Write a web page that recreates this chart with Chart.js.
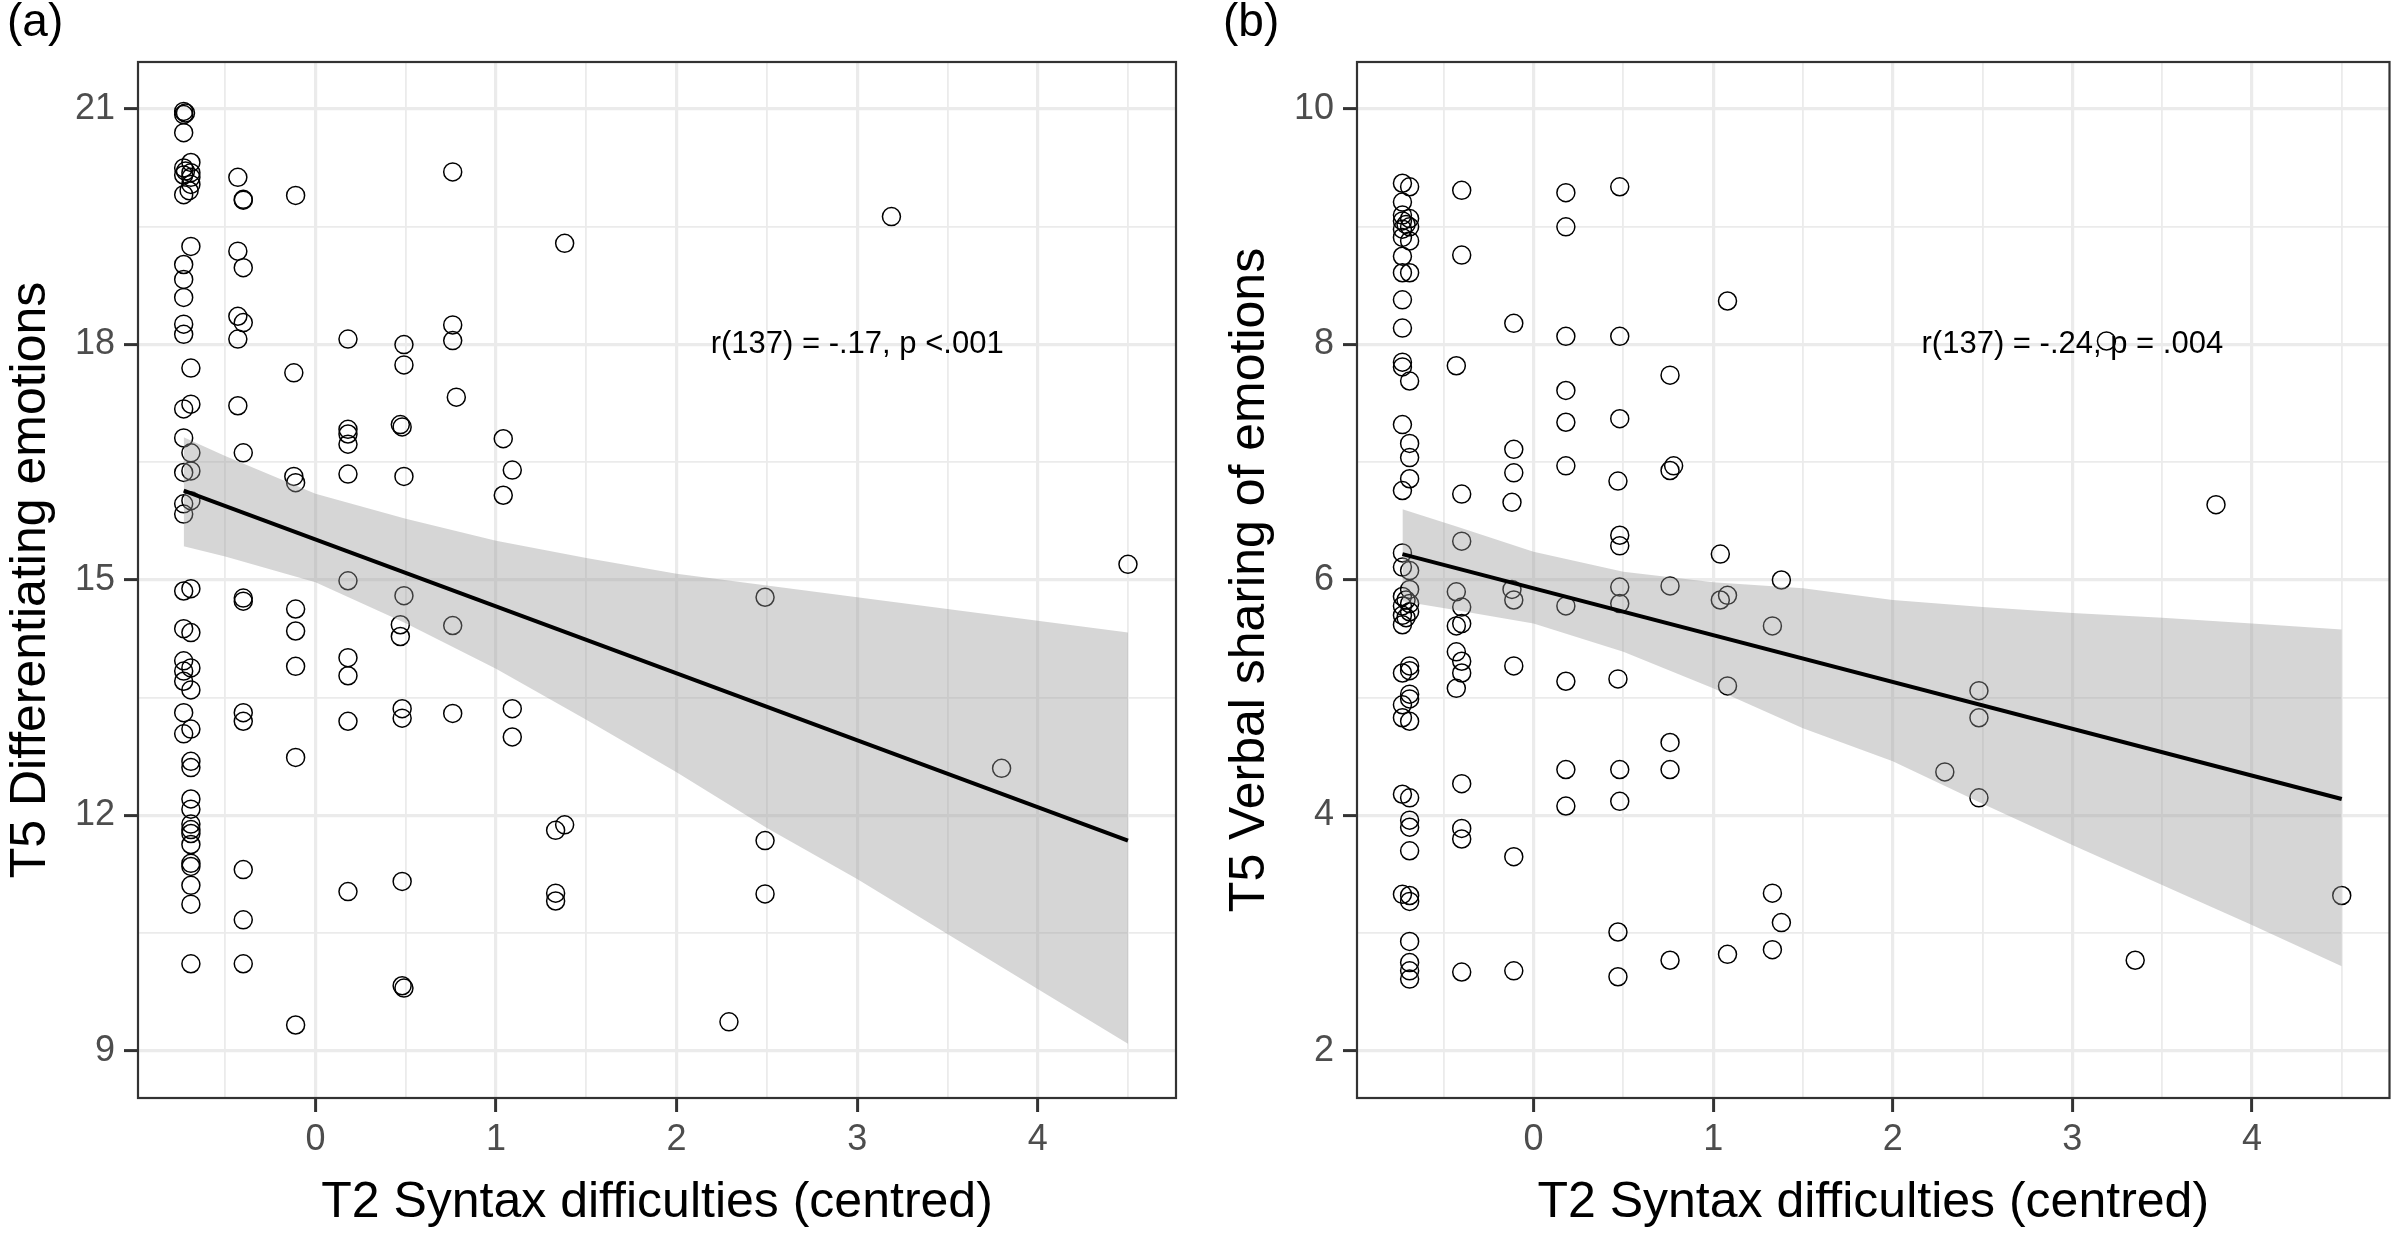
<!DOCTYPE html>
<html>
<head>
<meta charset="utf-8">
<title>T2 syntax difficulties and T5 emotion scores</title>
<script src="https://cdn.jsdelivr.net/npm/chart.js"></script>
<style>
  html, body { margin: 0; padding: 0; background: #fff; }
  body { width: 2400px; height: 1235px; position: relative; overflow: hidden;
         font-family: "Liberation Sans", Arial, sans-serif; }
  .panel { position: absolute; top: 0; width: 1200px; height: 1235px; }
  .tag { position: absolute; top: -3px; font-size: 46px; line-height: 1; color: #000; }
</style>
</head>
<body>
<div class="panel" style="left:0"><canvas id="chartA" width="1200" height="1235"></canvas></div>
<div class="panel" style="left:1200px"><canvas id="chartB" width="1200" height="1235"></canvas></div>
<div class="tag" style="left:7px">(a)</div>
<div class="tag" style="left:1223px">(b)</div>
<script>
// shared x axis (T2 syntax difficulties, centred)
const xMin = -0.983, xMax = 4.766;
const xTickLabels = [0, 1, 2, 3, 4];
const xGrid = [-0.5, 0, 0.5, 1, 1.5, 2, 2.5, 3, 3.5, 4, 4.5];

// panel (a): differentiating emotions
const yTickLabelsA = [9, 12, 15, 18, 21];
const yGridA = [9, 10.5, 12, 13.5, 15, 16.5, 18, 19.5, 21];
const syntaxA = [
  -0.73, -0.73, -0.72, -0.73, -0.69, -0.73, -0.72, -0.69, -0.73, -0.69, -0.69, -0.70, -0.73, -0.69, -0.73, -0.73, -0.73, -0.73, -0.73, -0.69, -0.69, -0.73,
  -0.73, -0.69, -0.69, -0.73, -0.69, -0.73, -0.73, -0.73, -0.69, -0.73, -0.69, -0.73, -0.69, -0.73, -0.73, -0.69, -0.73, -0.69, -0.73, -0.69, -0.69, -0.69, -0.69,
  -0.69, -0.69, -0.69, -0.69, -0.69, -0.69, -0.69, -0.69, -0.69,
  -0.43, -0.40, -0.40, -0.43, -0.40, -0.43, -0.40, -0.43, -0.43, -0.40, -0.40, -0.40, -0.40, -0.40, -0.40, -0.40, -0.40,
  -0.11, -0.12, -0.12, -0.11, -0.11, -0.11, -0.11, -0.11, -0.11,
  0.18, 0.18, 0.18, 0.18, 0.18, 0.18, 0.18, 0.18, 0.18, 0.18,
  0.49, 0.49, 0.47, 0.48, 0.49, 0.49, 0.47, 0.47, 0.48, 0.48, 0.48, 0.48, 0.49,
  0.76, 0.76, 0.76, 0.78, 0.76, 0.76,
  1.04, 1.09, 1.04, 1.09, 1.09,
  1.38, 1.33, 1.38, 1.33, 1.33,
  2.29, 2.49, 2.49, 2.49, 3.19, 3.80, 4.50
];
const diffEmotions = [
  20.97, 20.93, 20.95, 20.70, 20.32, 20.25, 20.21, 20.19, 20.16, 20.13, 20.04, 19.96, 19.91, 19.25, 19.02, 18.83, 18.60, 18.26, 18.13, 17.70, 17.24, 17.18,
  16.81, 16.62, 16.39, 16.37, 16.01, 15.97, 15.84, 14.86, 14.89, 14.38, 14.33, 13.97, 13.88, 13.84, 13.71, 13.60, 13.31, 13.10, 13.04, 12.69, 12.61, 12.21, 12.08,
  11.89, 11.82, 11.77, 11.63, 11.39, 11.35, 11.11, 10.87, 10.11,
  20.13, 19.85, 19.84, 19.19, 18.98, 18.36, 18.28, 18.07, 17.22, 16.62, 14.77, 14.73, 13.31, 13.20, 11.31, 10.67, 10.11,
  19.90, 17.64, 16.32, 16.24, 14.63, 14.35, 13.90, 12.74, 9.33,
  18.07, 16.92, 16.86, 16.73, 16.35, 14.99, 14.01, 13.78, 13.20, 11.03,
  18.00, 17.74, 16.98, 16.95, 16.32, 14.80, 14.43, 14.28, 13.36, 13.24, 11.16, 9.83, 9.80,
  20.20, 18.25, 18.05, 17.33, 14.42, 13.30,
  16.80, 16.40, 16.08, 13.36, 13.00,
  19.29, 11.81, 11.88, 11.01, 10.91,
  9.37, 14.78, 11.68, 11.00, 19.63, 12.60, 15.20
];
const fitXA = [-0.73, 4.5];
const fitYA = [16.14, 11.68];
const bandXA = [-0.73, -0.5, 0, 0.5, 1.0, 1.5, 2.0, 2.5, 3.0, 3.5, 4.0, 4.5];
const bandUpperA = [16.82, 16.58, 16.10, 15.78, 15.50, 15.28, 15.08, 14.93, 14.78, 14.63, 14.48, 14.33];
const bandLowerA = [15.43, 15.30, 14.97, 14.45, 13.87, 13.22, 12.55, 11.84, 11.19, 10.49, 9.79, 9.09];

// panel (b): verbal sharing of emotions
const yTickLabelsB = [2, 4, 6, 8, 10];
const yGridB = [2, 3, 4, 5, 6, 7, 8, 9, 10];
const syntaxB = [
  -0.73, -0.69, -0.73, -0.73, -0.69, -0.73, -0.71, -0.69, -0.73, -0.73, -0.69, -0.73, -0.73, -0.69, -0.73, -0.73, -0.73, -0.73, -0.69, -0.73, -0.69, -0.69, -0.69, -0.73, -0.73, -0.73, -0.69,
  -0.69, -0.73, -0.71, -0.69, -0.73, -0.69, -0.73, -0.71, -0.73, -0.69, -0.69, -0.73, -0.69, -0.69, -0.73, -0.73, -0.69, -0.73, -0.69, -0.69, -0.69, -0.69, -0.73, -0.69, -0.69, -0.69, -0.69, -0.69, -0.69,
  -0.40, -0.40, -0.43, -0.40, -0.40, -0.43, -0.40, -0.40, -0.43, -0.43, -0.40, -0.40, -0.43, -0.40, -0.40, -0.40, -0.40,
  -0.11, -0.11, -0.11, -0.12, -0.12, -0.11, -0.11, -0.11, -0.11,
  0.18, 0.18, 0.18, 0.18, 0.18, 0.18, 0.18, 0.18, 0.18, 0.18,
  0.48, 0.48, 0.48, 0.47, 0.48, 0.48, 0.48, 0.48, 0.47, 0.48, 0.48, 0.47, 0.47,
  0.76, 0.76, 0.78, 0.76, 0.76, 0.76, 0.76,
  1.08, 1.04, 1.04, 1.08, 1.08, 1.08,
  1.38, 1.33, 1.33, 1.38, 1.33,
  2.29, 2.48, 2.48, 2.48, 3.19, 3.35, 3.80, 4.50
];
const verbalShare = [
  9.37, 9.34, 9.21, 9.10, 9.07, 9.05, 9.02, 9.00, 8.98, 8.91, 8.88, 8.75, 8.61, 8.61, 8.38, 8.14, 7.85, 7.81, 7.69, 7.32, 7.16, 7.04, 6.86, 6.76, 6.23, 6.11, 6.08,
  5.92, 5.86, 5.83, 5.80, 5.78, 5.73, 5.70, 5.68, 5.62, 5.27, 5.23, 5.21, 5.03, 4.99, 4.94, 4.83, 4.80, 4.18, 4.15, 3.96, 3.90, 3.70, 3.33, 3.32, 3.27, 2.93, 2.75, 2.68, 2.61,
  9.31, 8.76, 7.82, 6.73, 6.33, 5.90, 5.77, 5.63, 5.61, 5.39, 5.31, 5.21, 5.08, 4.27, 3.89, 3.80, 2.67,
  8.18, 7.11, 6.91, 6.66, 5.92, 5.83, 5.27, 3.65, 2.68,
  9.29, 9.00, 8.07, 7.61, 7.34, 6.97, 5.78, 5.14, 4.39, 4.08,
  9.34, 8.07, 7.37, 6.84, 6.38, 6.29, 5.94, 5.80, 5.16, 4.39, 4.12, 3.01, 2.63,
  7.74, 6.93, 6.97, 5.95, 4.62, 4.39, 2.77,
  8.37, 6.22, 5.83, 5.87, 5.10, 2.82,
  6.00, 5.61, 3.34, 3.09, 2.86,
  4.37, 5.06, 4.83, 4.15, 8.03, 2.77, 6.64, 3.32
];
const fitXB = [-0.73, 4.5];
const fitYB = [6.22, 4.14];
const bandXB = [-0.73, -0.42, 0, 0.5, 1.0, 1.5, 2.0, 2.5, 3.0, 3.5, 4.0, 4.5];
const bandUpperB = [6.60, 6.45, 6.24, 6.07, 5.98, 5.93, 5.83, 5.77, 5.72, 5.68, 5.63, 5.58];
const bandLowerB = [5.82, 5.74, 5.63, 5.39, 5.08, 4.74, 4.46, 4.10, 3.75, 3.41, 3.07, 2.72];

Chart.defaults.font.family = "'Liberation Sans', Arial, sans-serif";

// helpers: majors get a thicker grid line and a visible tick mark
function gridWidth(labels) {
    return (c) => (c.tick && labels.includes(c.tick.value)) ? 3.2 : 1.8;
}
function tickColour(labels) {
    return (c) => (c.tick && labels.includes(c.tick.value)) ? '#333333' : 'rgba(0,0,0,0)';
}
function pairs(xs, ys) {
    return xs.map((x, i) => ({ x: x, y: ys[i] }));
}

// box round the panel, like theme_bw
const framePlugin = {
    id: 'panelFrame',
    afterDatasetsDraw(chart) {
        const { ctx, chartArea } = chart;
        ctx.save();
        ctx.strokeStyle = '#333333';
        ctx.lineWidth = 2.2;
        ctx.strokeRect(chartArea.left, chartArea.top,
            chartArea.right - chartArea.left, chartArea.bottom - chartArea.top);
        ctx.restore();
    }
};

// correlation text placed in data units
const notePlugin = {
    id: 'corrNote',
    afterDatasetsDraw(chart, args, opts) {
        const { ctx, scales } = chart;
        ctx.save();
        ctx.font = "31px 'Liberation Sans', Arial, sans-serif";
        ctx.fillStyle = '#000';
        ctx.textAlign = 'center';
        ctx.textBaseline = 'middle';
        ctx.fillText(opts.text, scales.x.getPixelForValue(opts.x), scales.y.getPixelForValue(opts.y));
        ctx.restore();
    }
};

function createChart(canvasId, p) {
    const ctx = document.getElementById(canvasId).getContext('2d');
    return new Chart(ctx, {
        type: 'scatter',
        data: {
            datasets: [
                // fitted line (drawn last, on top)
                { type: 'line', data: pairs(p.fitX, p.fitY), borderColor: '#000', borderWidth: 4,
                  pointRadius: 0, fill: false },
                // confidence band, filled down to the next dataset
                { type: 'line', data: pairs(p.bandX, p.bandUpper), borderWidth: 0, borderColor: 'rgba(0,0,0,0)',
                  pointRadius: 0, fill: '+1', backgroundColor: 'rgba(153,153,153,0.4)' },
                { type: 'line', data: pairs(p.bandX, p.bandLower), borderWidth: 0, borderColor: 'rgba(0,0,0,0)',
                  pointRadius: 0, fill: false },
                // open circles
                { type: 'scatter', data: pairs(p.xs, p.ys), pointRadius: 9, pointHoverRadius: 9,
                  borderColor: '#000', borderWidth: 1.5, backgroundColor: 'rgba(0,0,0,0)' }
            ]
        },
        options: {
            responsive: false,
            animation: false,
            devicePixelRatio: 1,
            events: [],
            layout: { padding: { left: p.padLeft, right: p.padRight, top: 62, bottom: 0 } },
            plugins: {
                legend: { display: false },
                tooltip: { enabled: false },
                corrNote: { text: p.note, x: 3, y: p.noteY }
            },
            scales: {
                x: {
                    type: 'linear',
                    position: 'bottom',
                    min: xMin,
                    max: xMax,
                    afterBuildTicks: (s) => { s.ticks = xGrid.map(v => ({ value: v })); },
                    afterFit: (s) => { s.height = 137; },
                    ticks: {
                        autoSkip: false, maxRotation: 0, padding: 6,
                        color: '#4D4D4D', font: { size: 36 },
                        callback: (v) => xTickLabels.includes(v) ? String(v) : ''
                    },
                    grid: {
                        color: '#EBEBEB', lineWidth: gridWidth(xTickLabels),
                        tickColor: tickColour(xTickLabels), tickWidth: 3, tickLength: 14
                    },
                    border: { display: false },
                    title: {
                        display: true, text: 'T2 Syntax difficulties (centred)', color: '#000',
                        font: { size: 50 }, padding: { top: 0, bottom: 2 }
                    }
                },
                y: {
                    type: 'linear',
                    position: 'left',
                    min: p.yMin,
                    max: p.yMax,
                    afterBuildTicks: (s) => { s.ticks = p.yGrid.map(v => ({ value: v })); },
                    afterFit: (s) => { s.width = p.yWidth; },
                    ticks: {
                        autoSkip: false, padding: 9,
                        color: '#4D4D4D', font: { size: 36 },
                        callback: (v) => p.yLabels.includes(v) ? String(v) : ''
                    },
                    grid: {
                        color: '#EBEBEB', lineWidth: gridWidth(p.yLabels),
                        tickColor: tickColour(p.yLabels), tickWidth: 3, tickLength: 14
                    },
                    border: { display: false },
                    title: {
                        display: true, text: p.yTitle, color: '#000',
                        font: { size: 50 }, padding: { top: 0, bottom: 0 }
                    }
                }
            }
        },
        plugins: [framePlugin, notePlugin]
    });
}

document.addEventListener('DOMContentLoaded', function() {
    createChart('chartA', {
        xs: syntaxA, ys: diffEmotions,
        fitX: fitXA, fitY: fitYA,
        bandX: bandXA, bandUpper: bandUpperA, bandLower: bandLowerA,
        yMin: 8.4, yMax: 21.6, yGrid: yGridA, yLabels: yTickLabelsA,
        yTitle: 'T5 Differentiating emotions',
        note: 'r(137) = -.17, p <.001', noteY: 18,
        padLeft: 1, padRight: 24, yWidth: 137
    });
    createChart('chartB', {
        xs: syntaxB, ys: verbalShare,
        fitX: fitXB, fitY: fitYB,
        bandX: bandXB, bandUpper: bandUpperB, bandLower: bandLowerB,
        yMin: 1.6, yMax: 10.4, yGrid: yGridB, yLabels: yTickLabelsB,
        yTitle: 'T5 Verbal sharing of emotions',
        note: 'r(137) = -.24, p = .004', noteY: 8,
        padLeft: 20, padRight: 2, yWidth: 137
    });
});
</script>
</body>
</html>
